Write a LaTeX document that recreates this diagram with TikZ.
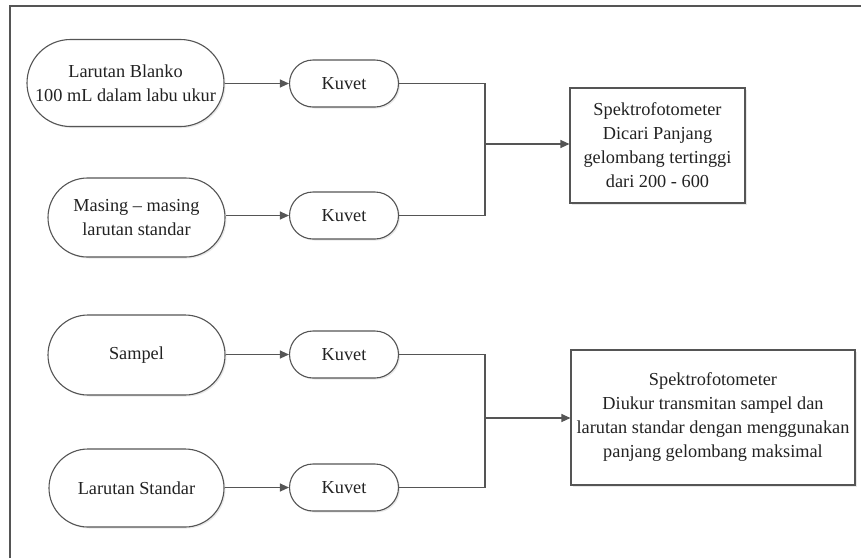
\documentclass[tikz,border=0pt]{standalone}
\usepackage{fontspec}
\setmainfont{Liberation Serif}
\usetikzlibrary{arrows.meta,shadows}
\definecolor{ln}{HTML}{555555}
\definecolor{tx}{HTML}{222222}
\tikzset{
  base/.style={draw=ln, line width=1.1pt, fill=white, text=tx, align=center, inner sep=0pt,
    font=\fontsize{18.3}{24}\selectfont,
    drop shadow={opacity=0.18, shadow xshift=1.5pt, shadow yshift=-1.5pt}},
  pill/.style={base, rounded corners=#1},
  boxnode/.style={base},
  conn/.style={draw=ln, line width=1.1pt},
  arr/.style={conn, -{Triangle[length=9pt,width=8pt]}}
}
\begin{document}
\begin{tikzpicture}[x=1pt,y=-1pt]
\useasboundingbox (0,0) rectangle (861,558);
\draw[ln, line width=1.2pt] (10,558) -- (10,6) -- (861,6);
% left nodes
\node[pill=43.5pt, minimum width=197pt, minimum height=87pt] (blanko) at (125.5,83) {Larutan Blanko\\100 mL dalam labu ukur};
\node[pill=39.5pt, minimum width=177pt, minimum height=79pt] (masing) at (136.5,217.5) {Masing -- masing\\larutan standar};
\node[pill=40pt, minimum width=177pt, minimum height=80pt] (sampel) at (136.5,355) {Sampel};
\node[pill=39pt, minimum width=175pt, minimum height=78pt] (standar) at (136.5,488) {Larutan Standar};
% kuvet
\node[pill=23.5pt, minimum width=109pt, minimum height=47pt] (k1) at (344,83.5) {Kuvet};
\node[pill=23.5pt, minimum width=109pt, minimum height=47pt] (k2) at (344,215.5) {Kuvet};
\node[pill=23.5pt, minimum width=109pt, minimum height=47pt] (k3) at (344,354.5) {Kuvet};
\node[pill=23.5pt, minimum width=109pt, minimum height=47pt] (k4) at (344,487.5) {Kuvet};
% right boxes
\node[boxnode, minimum width=175pt, minimum height=115pt] (b1) at (657.5,145.5) {Spektrofotometer\\Dicari Panjang\\gelombang tertinggi\\dari 200 - 600};
\node[boxnode, minimum width=284pt, minimum height=135pt] (b2) at (713,417.5) {Spektrofotometer\\Diukur transmitan sampel dan\\larutan standar dengan menggunakan\\panjang gelombang maksimal};
% junctions
\coordinate (j1) at (485,144);
\coordinate (j2) at (485,418);
% connectors
\draw[arr] (blanko.east |- k1.west) -- (k1.west);
\draw[arr] (masing.east |- k2.west) -- (k2.west);
\draw[arr] (sampel.east |- k3.west) -- (k3.west);
\draw[arr] (standar.east |- k4.west) -- (k4.west);
\draw[conn] (k1.east) -| (j1) |- (k2.east);
\draw[conn] (k3.east) -| (j2) |- (k4.east);
\draw[arr] (j1) -- (j1 -| b1.west);
\draw[arr] (j2) -- (j2 -| b2.west);
\end{tikzpicture}
\end{document}
